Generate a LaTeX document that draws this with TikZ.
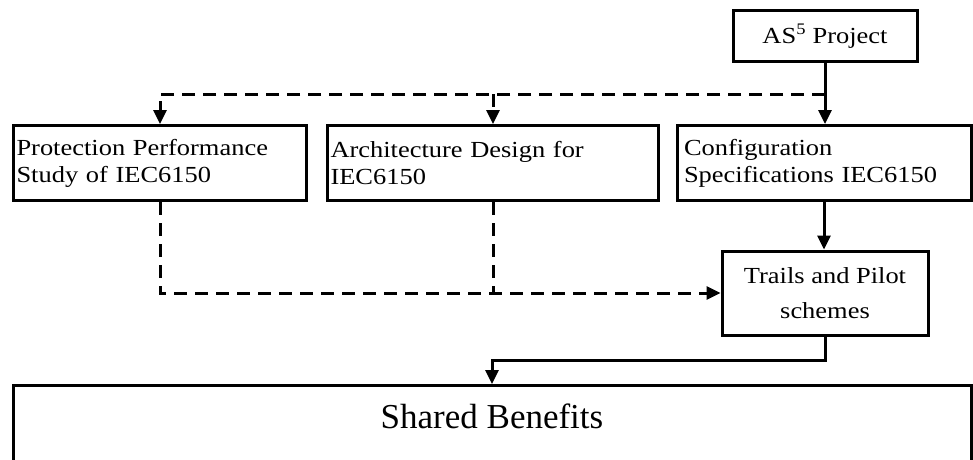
\documentclass[tikz,border=0pt]{standalone}
\usepackage{fontspec}
\setmainfont{Liberation Serif}
\newfontfamily\boxfont[FakeStretch=1.15]{Liberation Serif}
\usetikzlibrary{arrows.meta}

\begin{document}
\begin{tikzpicture}[x=1pt, y=-1pt, line width=3pt,
    box/.style={draw, rectangle, inner ysep=0pt, font=\boxfont\fontsize{23}{27}\selectfont},
    task/.style={box, align=left, inner xsep=3pt, text width=#1, minimum height=75pt},
    flow/.style={-{Triangle[length=14pt,width=13pt]}},
    dashes/.style={dash pattern=on 13pt off 8pt},
    feed/.style={flow, dashes}]
  \useasboundingbox (0,0) rectangle (973,459);
  \clip (0,0) rectangle (973,459);
  % project on top
  \node[box, minimum width=184pt, minimum height=51pt] (project) at (825,36) {AS\textsuperscript{5} Project};
  % the three studies
  \node[task=287pt] (study) at (160,163) {Protection Performance\\Study of IEC6150};
  \node[task=325pt] (arch) at (493,163) {Architecture Design for\\IEC6150};
  \node[task=280pt, inner xsep=7pt] (config) at (824,163) {Configuration\\Specifications IEC6150};
  % trials
  \node[box, align=center, font=\boxfont\fontsize{23}{35}\selectfont,
    minimum width=206pt, minimum height=84pt] (trails) at (825,293) {Trails and Pilot\\schemes};
  % benefits, runs off the bottom
  \node[draw, anchor=north, minimum width=958pt, inner ysep=0pt, text height=43pt, text depth=70pt,
    font=\fontsize{35}{40}\selectfont] (benefits) at (492,384) {Shared Benefits};
  % connectors
  \coordinate (fork) at (825,94);
  \draw[flow] (project.south) -- (project.south |- config.north);
  \draw[feed] (fork) -| (study.north);
  \draw[feed] (fork -| arch.north) -- (arch.north);
  \draw[flow] (config.south) -- (config.south |- trails.north);
  \draw[feed] (study.south) |- (trails.west);
  \draw[dashes] (arch.south) -- (arch.south |- trails.west);
  \draw[flow] (trails.south) -- ++(0,24) -| (benefits.north);
\end{tikzpicture}
\end{document}
